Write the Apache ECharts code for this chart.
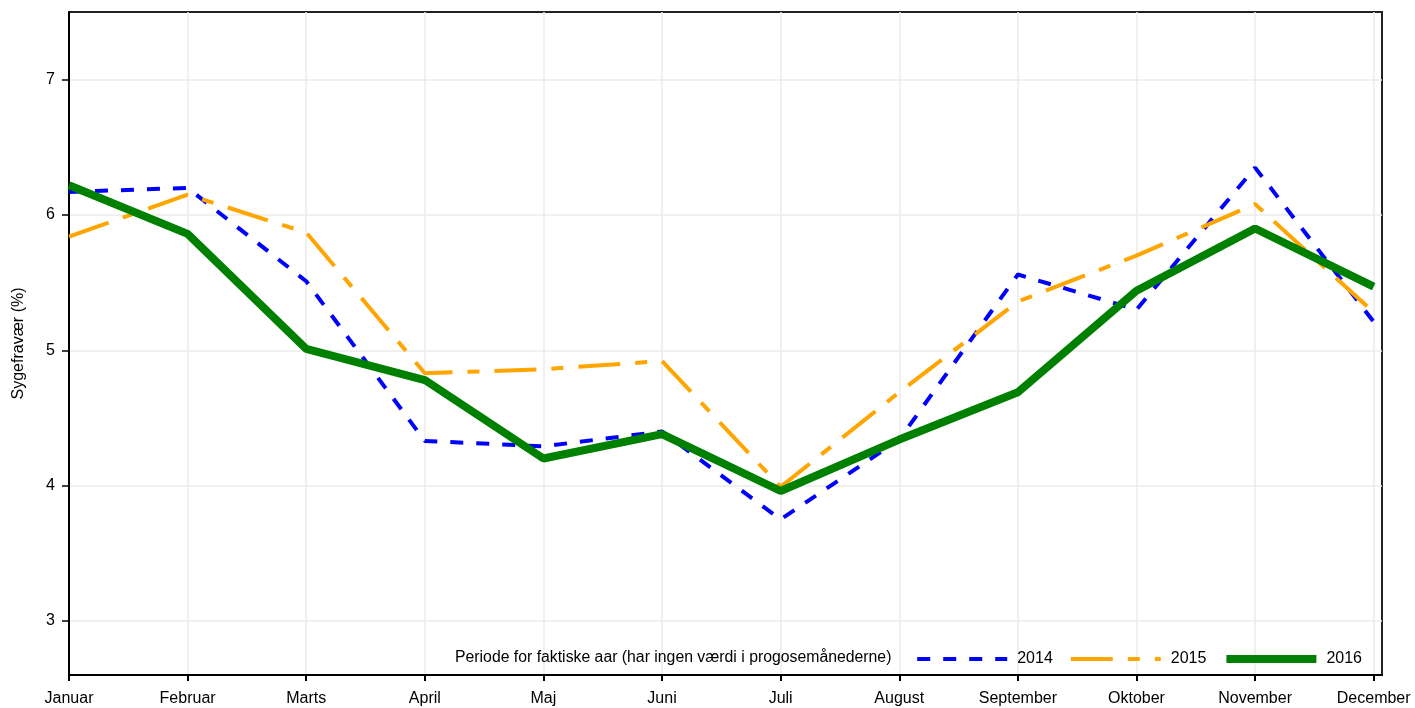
<!DOCTYPE html>
<html>
<head>
<meta charset="utf-8">
<script src="https://cdn.jsdelivr.net/npm/echarts@6/dist/echarts.min.js"></script>
<style>
  html, body { margin: 0; padding: 0; background: #fff; }
  #chart { width: 1415px; height: 708px; }
</style>
</head>
<body>
<div id="chart"></div>
<script>
// maaneder (x-akse)
var months = ['Januar', 'Februar', 'Marts', 'April', 'Maj', 'Juni', 'Juli',
  'August', 'September', 'Oktober', 'November', 'December'];
// sygefravaer i procent
var y2014 = [6.17, 6.20, 5.51, 4.33, 4.29, 4.40, 3.75, 4.34, 5.56, 5.30, 6.35, 5.21];
var y2015 = [5.84, 6.15, 5.87, 4.83, 4.86, 4.92, 3.99, 4.69, 5.36, 5.70, 6.08, 5.28];
var y2016 = [6.22, 5.86, 5.01, 4.78, 4.20, 4.38, 3.96, 4.34, 4.69, 5.44, 5.90, 5.47];
var yTicks = [3, 4, 5, 6, 7];
var legendNote = 'Periode for faktiske aar (har ingen værdi i progosemånederne)';

var monthIdx = months.map(function (m, i) { return i; });

function pairs(vals) {
  return vals.map(function (v, i) { return [i, v]; });
}

var font = 'Liberation Sans, Arial, sans-serif';
var chart = echarts.init(document.getElementById('chart'), null, { renderer: 'canvas' });

var option = {
  animation: false,
  backgroundColor: '#fff',
  textStyle: { fontFamily: font },
  grid: {
    left: 69, right: 33, top: 12, bottom: 33,
    outerBoundsMode: 'none',
    show: true, borderColor: '#222', borderWidth: 2
  },
  title: {
    text: legendNote,
    left: 450, top: 645,
    textStyle: { fontFamily: font, fontSize: 15.8, fontWeight: 'normal', color: '#000' }
  },
  legend: {
    right: 48, top: 646,
    itemWidth: 90, itemHeight: 14, itemGap: 16,
    textStyle: { fontFamily: font, fontSize: 16, color: '#000', padding: [0, 0, 0, 5] },
    itemStyle: { opacity: 0 },
    lineStyle: { width: 'inherit' },
    data: ['2014', '2015', '2016']
  },
  xAxis: {
    type: 'value',
    min: 0, max: 11.07,
    axisLine: { show: true, lineStyle: { color: '#000', width: 2 } },
    axisTick: { show: true, length: 6, customValues: monthIdx, lineStyle: { color: '#000', width: 2 } },
    axisLabel: {
      customValues: monthIdx, margin: 16, fontSize: 16, color: '#000', fontFamily: font,
      formatter: function (v) { return months[Math.round(v)]; }
    },
    splitLine: { show: true, lineStyle: { color: '#ebebeb', width: 1.5 } }
  },
  yAxis: {
    type: 'value',
    min: 2.6, max: 7.5,
    name: 'Sygefravær (%)',
    nameLocation: 'middle', nameRotate: 90, nameGap: 42,
    nameTextStyle: { fontSize: 16, color: '#000', fontFamily: font },
    axisLine: { show: true, lineStyle: { color: '#000', width: 2 } },
    axisTick: { show: true, length: 7, customValues: yTicks, lineStyle: { color: '#000', width: 1.5 } },
    axisLabel: { customValues: yTicks, margin: 14, fontSize: 16, color: '#000', fontFamily: font },
    splitLine: { show: true, lineStyle: { color: '#ebebeb', width: 1.5 } }
  },
  series: [
    {
      name: '2014', type: 'line', symbol: 'none', data: pairs(y2014),
      itemStyle: { color: '#0000ff' },
      lineStyle: { color: '#0000ff', width: 4, type: [13, 13] }
    },
    {
      name: '2015', type: 'line', symbol: 'none', data: pairs(y2015),
      itemStyle: { color: '#ffa500' },
      lineStyle: { color: '#ffa500', width: 4, type: [42, 15, 12, 15] }
    },
    {
      name: '2016', type: 'line', symbol: 'none', data: pairs(y2016),
      itemStyle: { color: '#008000' },
      lineStyle: { color: '#008000', width: 8 }
    }
  ]
};

chart.setOption(option);
</script>
</body>
</html>
